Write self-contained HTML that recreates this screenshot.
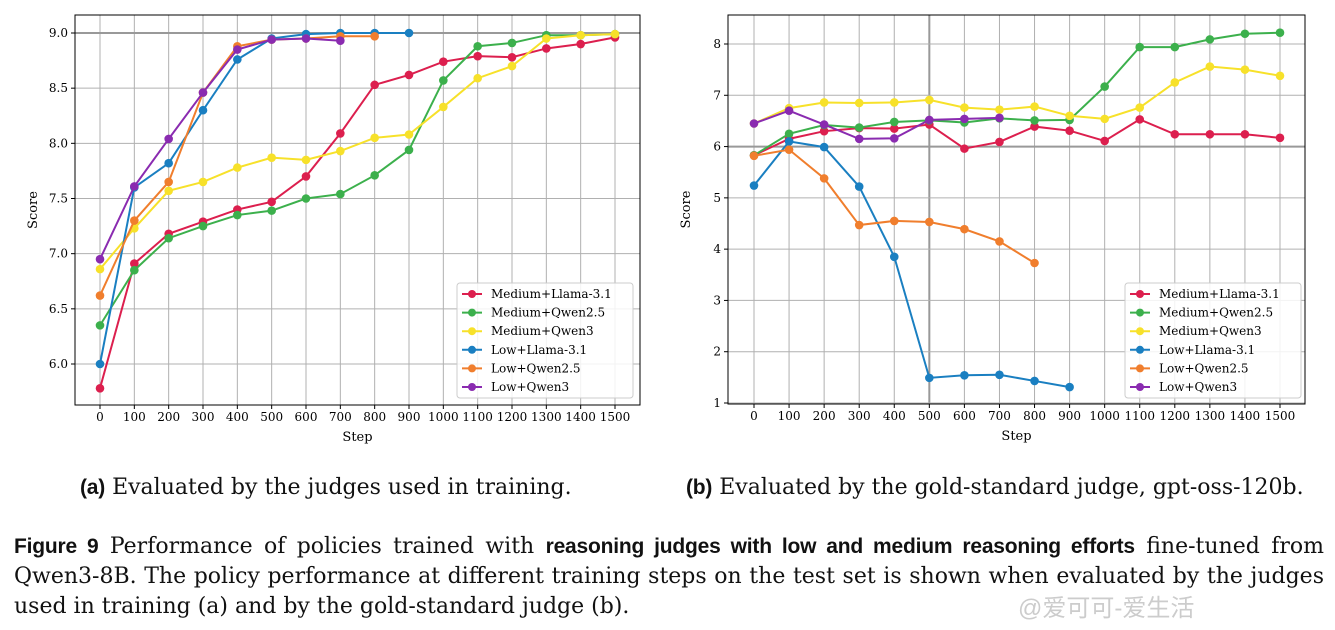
<!DOCTYPE html>
<html><head><meta charset="utf-8"><style>
body{margin:0;background:#fff;width:1335px;height:630px;overflow:hidden;position:relative;font-family:"DejaVu Serif",serif}
svg{position:absolute;left:0;top:0}
.cap{position:absolute;font-size:22px;color:#111;white-space:nowrap;font-family:"DejaVu Serif",serif}
.b{font-family:"Liberation Sans",sans-serif;font-weight:bold;font-size:21px;letter-spacing:-0.2px}
.ln{position:absolute;left:14px;width:1310px;font-size:22px;color:#111;white-space:nowrap;text-align:justify;text-align-last:justify}
</style></head><body>
<svg id="c" width="1335" height="470"></svg>
<div class="cap" style="left:80px;top:475px"><span class="b">(a)</span> Evaluated by the judges used in training.</div>
<div class="cap" style="left:686px;top:475px"><span class="b">(b)</span> Evaluated by the gold-standard judge, gpt-oss-120b.</div>
<div>
<div class="ln" style="top:534px"><span class="b">Figure 9</span> Performance of policies trained with <span class="b">reasoning judges with low and medium reasoning efforts</span> fine-tuned from</div>
<div class="ln" style="top:564px">Qwen3-8B. The policy performance at different training steps on the test set is shown when evaluated by the judges</div>
<div class="ln" style="top:594px;text-align-last:left;width:auto">used in training (a) and by the gold-standard judge (b).</div>
</div>
<div class="cap" style="left:1018px;top:588px;color:#ccc;font-size:24px;font-family:'Liberation Sans','Noto Sans CJK SC',sans-serif">@爱可可-爱生活</div>
<script>
const steps=[0,100,200,300,400,500,600,700,800,900,1000,1100,1200,1300,1400,1500];
const seriesNames=["Medium+Llama-3.1","Medium+Qwen2.5","Medium+Qwen3","Low+Llama-3.1","Low+Qwen2.5","Low+Qwen3"];
const colors=["#dc1f4e","#3cb04c","#f7e12a","#1a7fc1","#f07e2d","#8a2bb0"];
const aMedLlama=[5.78,6.91,7.18,7.29,7.40,7.47,7.70,8.09,8.53,8.62,8.74,8.79,8.78,8.86,8.90,8.96];
const aMedQwen25=[6.35,6.85,7.14,7.25,7.35,7.39,7.50,7.54,7.71,7.94,8.57,8.88,8.91,8.98,8.98,8.99];
const aMedQwen3=[6.86,7.23,7.57,7.65,7.78,7.87,7.85,7.93,8.05,8.08,8.33,8.59,8.70,8.95,8.98,8.99];
const aLowLlama=[6.00,7.60,7.82,8.30,8.76,8.95,8.99,9.00,9.00,9.00];
const aLowQwen25=[6.62,7.30,7.65,8.46,8.88,8.94,8.95,8.97,8.97];
const aLowQwen3=[6.95,7.61,8.04,8.46,8.85,8.94,8.95,8.93];
const bMedLlama=[5.83,6.15,6.30,6.36,6.35,6.43,5.96,6.09,6.39,6.31,6.11,6.53,6.24,6.24,6.24,6.17];
const bMedQwen25=[5.83,6.25,6.42,6.37,6.48,6.51,6.47,6.55,6.51,6.52,7.17,7.94,7.94,8.09,8.20,8.22];
const bMedQwen3=[6.45,6.75,6.86,6.85,6.86,6.91,6.76,6.72,6.78,6.60,6.54,6.76,7.25,7.56,7.50,7.38];
const bLowLlama=[5.24,6.10,5.99,5.22,3.85,1.49,1.54,1.55,1.43,1.31];
const bLowQwen25=[5.82,5.94,5.38,4.47,4.55,4.53,4.39,4.15,3.73];
const bLowQwen3=[6.45,6.70,6.43,6.15,6.16,6.52,6.54,6.56];
const aTicks=[6.0,6.5,7.0,7.5,8.0,8.5,9.0];
const bTicks=[1,2,3,4,5,6,7,8];
const svg=document.getElementById('c');
const NS="http://www.w3.org/2000/svg";
function mk(t,a,p){const e=document.createElementNS(NS,t);for(const k in a)e.setAttribute(k,a[k]);(p||svg).appendChild(e);return e;}
function chart(cfg){
  const g=mk('g',{});
  
  
  const X=s=>cfg.x0+(s-0)*(cfg.x1-cfg.x0)/1500;
  const Y=v=>cfg.yA+(v-cfg.vA)*(cfg.yB-cfg.yA)/(cfg.vB-cfg.vA);
  steps.forEach(s=>{const dark=s===cfg.vx;const l=mk('line',{x1:X(s),x2:X(s),y1:cfg.top,y2:cfg.bot,stroke:dark?'#999':'#b0b0b0','stroke-width':dark?2:1},g);
    
    const t=mk('text',{x:X(s),y:cfg.bot+16,'text-anchor':'middle','font-size':12,'font-family':'DejaVu Serif,serif'},g);t.textContent=s;
    
    mk('line',{x1:X(s),x2:X(s),y1:cfg.bot,y2:cfg.bot+4,stroke:'#000'},g);});
  cfg.ticks.forEach(v=>{const dark=v===cfg.hy;const l=mk('line',{x1:cfg.left,x2:cfg.right,y1:Y(v),y2:Y(v),stroke:dark?'#999':'#b0b0b0','stroke-width':dark?2:1},g);
    
    const t=mk('text',{x:cfg.left-7,y:Y(v)+4,'text-anchor':'end','font-size':12,'font-family':'DejaVu Serif,serif'},g);t.textContent=cfg.fmt(v);
    
    mk('line',{x1:cfg.left-4,x2:cfg.left,y1:Y(v),y2:Y(v),stroke:'#000'},g);});
  const fr=mk('rect',{x:cfg.left,y:cfg.top,width:cfg.right-cfg.left,height:cfg.bot-cfg.top,fill:'none',stroke:'#000','stroke-width':1},g);
  
  let t=mk('text',{x:(cfg.left+cfg.right)/2,y:cfg.bot+36,'text-anchor':'middle','font-size':13,'font-family':'DejaVu Serif,serif'},g);t.textContent='Step';
  
  t=mk('text',{x:0,y:0,transform:`translate(${cfg.left-38},${(cfg.top+cfg.bot)/2}) rotate(-90)`,'text-anchor':'middle','font-size':13,'font-family':'DejaVu Serif,serif'},g);t.textContent='Score';
  
  cfg.data.forEach((d,i)=>{
    const pts=d.map((v,j)=>X(steps[j])+','+Y(v)).join(' ');
    const pl=mk('polyline',{points:pts,fill:'none',stroke:colors[i],'stroke-width':2},g);
    
    d.forEach((v,j)=>{const c=mk('circle',{cx:X(steps[j]),cy:Y(v),r:4.3,fill:colors[i]},g);
      });
  });
  const lg=mk('g',{},g);
  
  mk('rect',{x:cfg.lx,y:283,width:176,height:115,rx:3,fill:'#fff','fill-opacity':0.85,stroke:'#ccc'},lg);
  seriesNames.forEach((n,i)=>{const y=294+i*18.6;
    mk('line',{x1:cfg.lx+5,x2:cfg.lx+25,y1:y,y2:y,stroke:colors[i],'stroke-width':2},lg);
    mk('circle',{cx:cfg.lx+15,cy:y,r:4,fill:colors[i]},lg);
    const tt=mk('text',{x:cfg.lx+34,y:y+4,'font-size':12,'font-family':'DejaVu Serif,serif'},lg);tt.textContent=n;
    });
}
chart({name:'chart-a',left:75,right:640,top:15,bot:405,x0:100,x1:615,yA:33,vA:9,yB:364,vB:6,ticks:aTicks,hy:9.0,vx:-1,fmt:v=>v.toFixed(1),
  data:[aMedLlama,aMedQwen25,aMedQwen3,aLowLlama,aLowQwen25,aLowQwen3],lx:457});
chart({name:'chart-b',left:728,right:1305,top:15,bot:404,x0:754,x1:1280,yA:44,vA:8,yB:403,vB:1,ticks:bTicks,hy:6,vx:500,fmt:v=>String(v),
  data:[bMedLlama,bMedQwen25,bMedQwen3,bLowLlama,bLowQwen25,bLowQwen3],lx:1125});
</script>
</body></html>
